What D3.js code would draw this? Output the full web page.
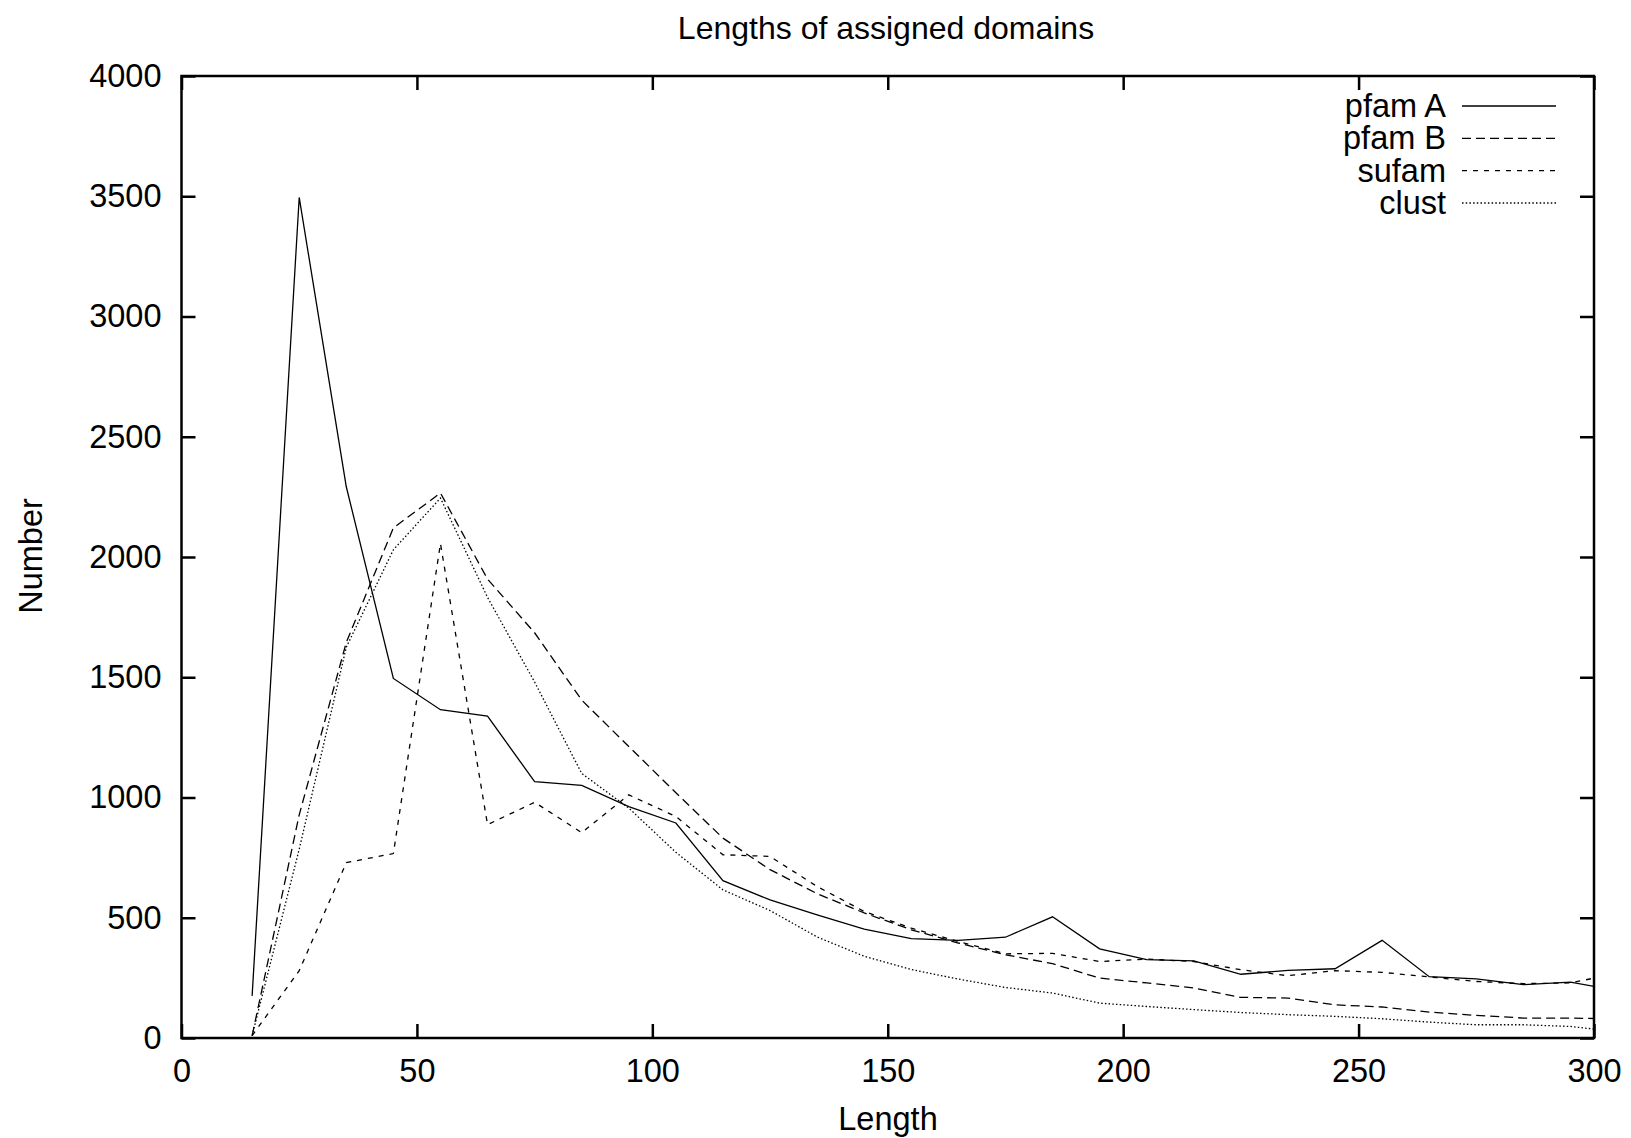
<!DOCTYPE html>
<html>
<head>
<meta charset="utf-8">
<script src="https://cdn.jsdelivr.net/npm/d3@7"></script>
<style>
  html, body { margin: 0; padding: 0; background: #fff; }
  svg { display: block; }
  text { font-family: "Liberation Sans", Arial, Helvetica, sans-serif; fill: #000; }
</style>
</head>
<body>
<svg id="chart" width="1631" height="1138"></svg>
<script>
// ---- data ----
const lengths = [15, 25, 35, 45, 55, 65, 75, 85, 95, 105, 115, 125, 135, 145, 155, 165, 175, 185, 195, 205, 215, 225, 235, 245, 255, 265, 275, 285, 295, 305];
const pfamA = [175, 3495, 2292, 1495, 1365, 1338, 1066, 1050, 962, 894, 654, 574, 512, 453, 413, 406, 419, 504, 371, 326, 321, 265, 281, 288, 406, 255, 246, 222, 232, 197];
const pfamB = [10, 928, 1645, 2121, 2266, 1908, 1685, 1405, 1212, 1020, 831, 700, 600, 520, 450, 395, 346, 309, 249, 229, 208, 169, 166, 138, 129, 108, 94, 83, 83, 79];
const sufam = [10, 280, 729, 767, 2056, 887, 980, 854, 1011, 921, 762, 755, 630, 526, 457, 401, 350, 352, 318, 328, 318, 284, 259, 280, 273, 254, 235, 226, 229, 269];
const clust = [10, 785, 1625, 2030, 2245, 1832, 1480, 1100, 956, 772, 616, 530, 420, 340, 285, 245, 210, 187, 145, 131, 118, 106, 97, 90, 80, 66, 55, 55, 48, 26];

const seriesNames = ["pfam A", "pfam B", "sufam", "clust"];
const seriesValues = [pfamA, pfamB, sufam, clust];

const xTicks = [0, 50, 100, 150, 200, 250, 300];
const yTicks = [0, 500, 1000, 1500, 2000, 2500, 3000, 3500, 4000];

const titleText = "Lengths of assigned domains";
const xLabel = "Length";
const yLabel = "Number";

// ---- layout ----
const plotL = 181.5, plotR = 1594, plotT = 76, plotB = 1038;
const dashes = [null, "9,5", "5,6", "1.5,2.2"];
const fontSize = 32.5;

const svg = d3.select("#chart");

const x = d3.scaleLinear().domain([0, 300]).range([plotL, plotR]);
const y = d3.scaleLinear().domain([0, 4000]).range([plotB, plotT]);

svg.append("defs").append("clipPath").attr("id", "plotclip")
  .append("rect").attr("x", plotL).attr("y", plotT)
  .attr("width", plotR - plotL).attr("height", plotB - plotT);

// Axes
function styleAxis(g) {
  g.select(".domain").remove();
  g.selectAll(".tick line").attr("stroke", "#000").attr("stroke-width", 2.5);
  g.selectAll(".tick text").attr("font-size", fontSize)
    .attr("font-family", "'Liberation Sans', Arial, Helvetica, sans-serif")
    .attr("fill", "#000");
}

svg.append("g").attr("transform", `translate(0,${plotB})`)
  .call(d3.axisBottom(x).tickValues(xTicks).tickSize(-14).tickPadding(21).tickFormat(d3.format("d")))
  .call(styleAxis);
svg.append("g").attr("transform", `translate(0,${plotT})`)
  .call(d3.axisTop(x).tickValues(xTicks).tickSize(-14).tickFormat(""))
  .call(styleAxis);
svg.append("g").attr("transform", `translate(${plotL},0)`)
  .call(d3.axisLeft(y).tickValues(yTicks).tickSize(-14).tickPadding(20).tickFormat(d3.format("d")))
  .call(styleAxis)
  .call(g => g.selectAll(".tick text").attr("dy", "0.32em"));
svg.append("g").attr("transform", `translate(${plotR},0)`)
  .call(d3.axisRight(y).tickValues(yTicks).tickSize(-14).tickFormat(""))
  .call(styleAxis);

// Lines
const line = d3.line().x(d => x(d[0])).y(d => y(d[1]));
const plot = svg.append("g").attr("clip-path", "url(#plotclip)");
seriesValues.forEach((vals, i) => {
  const pts = lengths.map((L, j) => [L, vals[j]]);
  plot.append("path")
    .datum(pts)
    .attr("d", line)
    .attr("fill", "none")
    .attr("stroke", "#000")
    .attr("stroke-width", 1.3)
    .attr("stroke-dasharray", dashes[i]);
});

// Frame
svg.append("rect")
  .attr("x", plotL).attr("y", plotT)
  .attr("width", plotR - plotL).attr("height", plotB - plotT)
  .attr("fill", "none").attr("stroke", "#000").attr("stroke-width", 2.5);

// Legend
const legendY = d3.scaleLinear().domain([0, 3]).range([106, 203]);
seriesNames.forEach((name, i) => {
  const ly = legendY(i);
  svg.append("text")
    .attr("x", 1446).attr("y", ly + 11)
    .attr("text-anchor", "end")
    .attr("font-size", fontSize)
    .text(name);
  svg.append("line")
    .attr("x1", 1462).attr("x2", 1556)
    .attr("y1", ly).attr("y2", ly)
    .attr("stroke", "#000").attr("stroke-width", 1.3)
    .attr("stroke-dasharray", dashes[i]);
});

// Titles
svg.append("text")
  .attr("x", 886).attr("y", 39)
  .attr("text-anchor", "middle")
  .attr("font-size", 32)
  .text(titleText);

svg.append("text")
  .attr("x", 888).attr("y", 1130)
  .attr("text-anchor", "middle")
  .attr("font-size", fontSize)
  .text(xLabel);

svg.append("text")
  .attr("transform", "translate(42,556) rotate(-90)")
  .attr("text-anchor", "middle")
  .attr("font-size", fontSize)
  .text(yLabel);
</script>
</body>
</html>
